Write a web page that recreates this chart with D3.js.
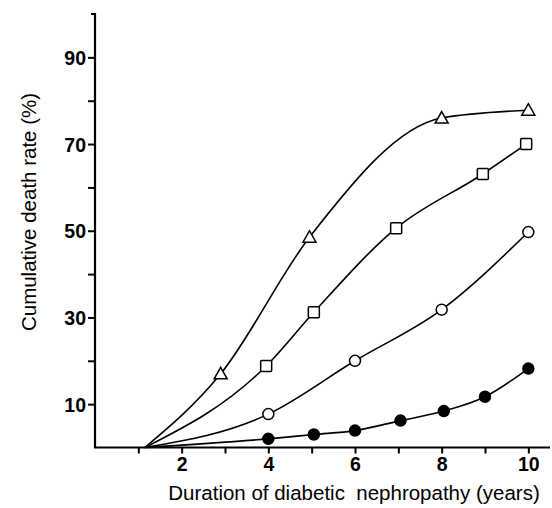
<!DOCTYPE html>
<html>
<head>
<meta charset="utf-8">
<script src="https://cdn.jsdelivr.net/npm/d3@7"></script>
<style>
  body { margin: 0; background: #fff; }
  svg { display: block; }
  .tick text { font-family: "Liberation Sans", Arial, sans-serif; font-weight: bold; font-size: 19.5px; }
  .lbl { font-family: "Liberation Sans", Arial, sans-serif; font-size: 20.5px; }
</style>
</head>
<body>
<div id="chart"></div>
<script>
// curves all start from the same point on the x axis
var curveStart = 1.15

var triYears = [2.9, 4.95, 8, 10]
var triRates = [17, 48.5, 76, 77.8]

var sqYears = [3.95, 5.05, 6.95, 8.95, 9.95]
var sqRates = [18.8, 31.2, 50.6, 63.1, 70]

var openYears = [4, 6, 8, 10]
var openRates = [7.7, 20, 31.8, 49.7]

var fillYears = [4, 5.05, 6, 7.05, 8.05, 9, 10]
var fillRates = [2, 3, 3.9, 6.2, 8.4, 11.7, 18.2]

var xTicks = [2, 4, 6, 8, 10]
var yTicks = [10, 30, 50, 70, 90]

var width = 552, height = 508

var svg = d3.select("#chart").append("svg")
  .attr("width", width)
  .attr("height", height)

var x = d3.scaleLinear().domain([0, 10.5]).range([95, 550])
var y = d3.scaleLinear().domain([0, 100]).range([447.5, 14])

// bottom axis
var xAxis = svg.append("g")
  .attr("transform", "translate(0," + y(0) + ")")
  .call(d3.axisBottom(x).tickValues(d3.range(1, 11)).tickSize(6).tickPadding(4)
    .tickFormat(function(d) { return xTicks.indexOf(d) >= 0 ? d : "" }))
xAxis.select(".domain").attr("d", "M" + (x(0) - 1) + ",0H" + x(10.5)).attr("stroke-width", 2.2)
xAxis.selectAll(".tick line").attr("stroke-width", 2)
xAxis.selectAll(".tick text").attr("fill", "#000")

// left axis
var yAxis = svg.append("g")
  .attr("transform", "translate(" + x(0) + ",0)")
  .call(d3.axisLeft(y).tickValues(d3.range(10, 100, 10)).tickSize(7).tickPadding(2)
    .tickFormat(function(d) { return yTicks.indexOf(d) >= 0 ? d : "" }))
yAxis.select(".domain").attr("d", "M-4," + y(100) + "H0V" + y(0)).attr("stroke-width", 2.2)
yAxis.selectAll(".tick line").attr("stroke-width", 2)
yAxis.selectAll(".tick text").attr("fill", "#000").attr("dy", "0.36em")

svg.append("text").attr("class", "lbl")
  .attr("x", 354).attr("y", 500)
  .attr("text-anchor", "middle")
  .text("Duration of diabetic\u00a0 nephropathy (years)")

svg.append("text").attr("class", "lbl")
  .attr("transform", "translate(36,212) rotate(-90)")
  .attr("text-anchor", "middle")
  .text("Cumulative death rate (%)")

var line = d3.line()
  .x(function(d) { return x(d[0]) })
  .y(function(d) { return y(d[1]) })
  .curve(d3.curveMonotoneX)

function series(xs, ys) {
  return xs.map(function(v, i) { return [v, ys[i]] })
}

var all = [
  { pts: series(triYears, triRates), mark: "tri" },
  { pts: series(sqYears, sqRates), mark: "sq" },
  { pts: series(openYears, openRates), mark: "open" },
  { pts: series(fillYears, fillRates), mark: "fill" }
]

all.forEach(function(s) {
  svg.append("path")
    .attr("d", line([[curveStart, 0]].concat(s.pts)))
    .attr("fill", "none")
    .attr("stroke", "#000")
    .attr("stroke-width", 1.6)

  var g = svg.append("g")
  s.pts.forEach(function(p) {
    var cx = x(p[0]), cy = y(p[1])
    if (s.mark == "tri") {
      g.append("path")
        .attr("d", "M" + cx + "," + (cy - 6.5) + "L" + (cx + 6.5) + "," + (cy + 5) + "L" + (cx - 6.5) + "," + (cy + 5) + "Z")
        .attr("fill", "#fff").attr("stroke", "#000").attr("stroke-width", 1.5)
    } else if (s.mark == "sq") {
      g.append("rect")
        .attr("x", cx - 5.5).attr("y", cy - 5.5).attr("width", 11).attr("height", 11).attr("rx", 1)
        .attr("fill", "#fff").attr("stroke", "#000").attr("stroke-width", 1.5)
    } else {
      g.append("circle")
        .attr("cx", cx).attr("cy", cy).attr("r", 5.5)
        .attr("fill", s.mark == "fill" ? "#000" : "#fff")
        .attr("stroke", "#000").attr("stroke-width", 1.5)
    }
  })
})
</script>
</body>
</html>
